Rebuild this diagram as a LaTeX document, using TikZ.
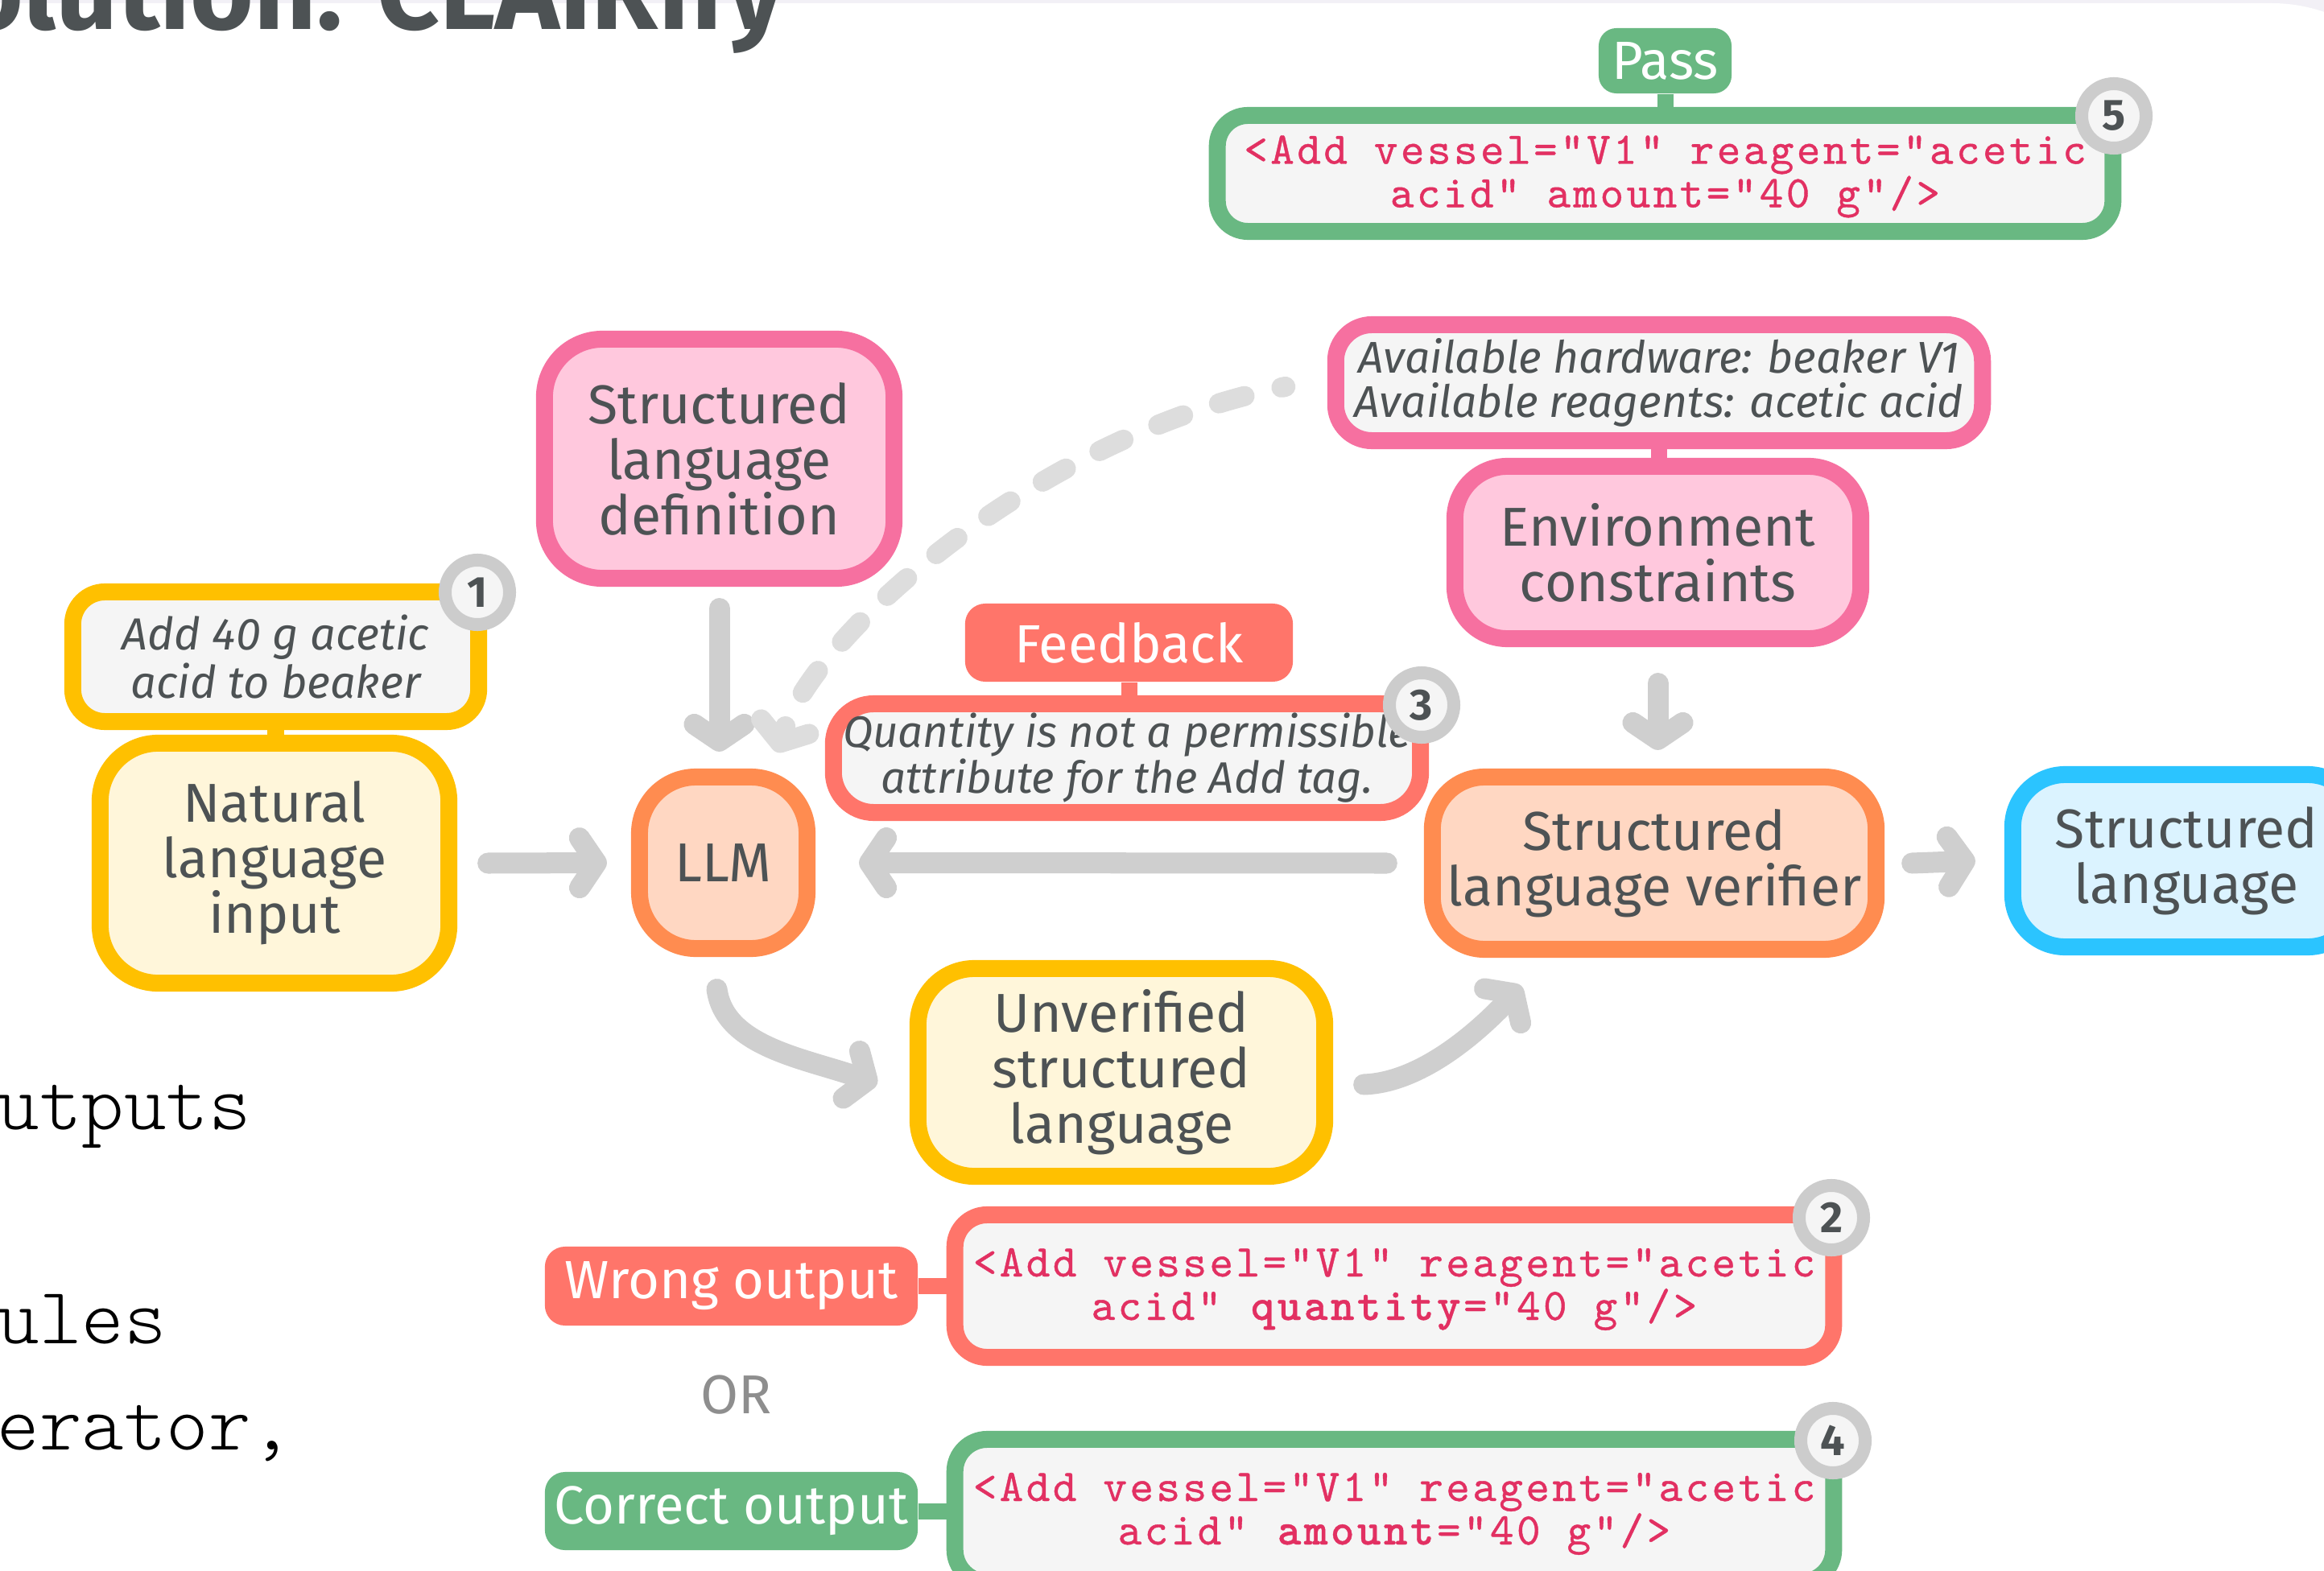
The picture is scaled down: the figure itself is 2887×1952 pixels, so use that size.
\documentclass[tikz,border=0pt]{standalone}
\usepackage{fontspec}
\setmainfont{Fira Sans}
\newfontfamily\codefont{lmmono10-regular.otf}[BoldFont=lmmonolt10-bold.otf, LetterSpace=6.2, FakeBold=0.7]
\newfontfamily\courfont{lmmonolt10-regular.otf}
\usetikzlibrary{arrows.meta}

\definecolor{txt}{RGB}{77,82,84}
\definecolor{ybord}{RGB}{255,192,0}
\definecolor{yfill}{RGB}{255,246,218}
\definecolor{pbord}{RGB}{246,112,160}
\definecolor{pfill}{RGB}{255,200,221}
\definecolor{obord}{RGB}{255,140,80}
\definecolor{ofill}{RGB}{255,215,194}
\definecolor{coral}{RGB}{255,117,106}
\definecolor{grn}{RGB}{105,184,130}
\definecolor{bbord}{RGB}{43,196,255}
\definecolor{bfill}{RGB}{219,243,255}
\definecolor{arrgray}{RGB}{207,207,207}
\definecolor{dashgray}{RGB}{221,221,221}
\definecolor{lfill}{RGB}{245,245,245}
\definecolor{ringgray}{RGB}{204,204,204}
\definecolor{codecol}{RGB}{226,48,98}
\definecolor{orgray}{RGB}{142,142,142}
\definecolor{framecol}{RGB}{242,240,246}

\newcommand\mainsz{\fontsize{19.35pt}{19.63pt}\selectfont}
\newcommand\italsz{\fontsize{15.9pt}{15.65pt}\selectfont\itshape}
\newcommand\italszb{\fontsize{15.55pt}{16.2pt}\selectfont\itshape}
\newcommand\italszc{\fontsize{15.7pt}{15.65pt}\selectfont\itshape}
\newcommand\lblsz{\fontsize{19.0pt}{19.6pt}\selectfont}
\newcommand\codesz{\fontsize{16.0pt}{15.36pt}\selectfont\codefont}
\newcommand\badgesz{\fontsize{15.4pt}{16pt}\selectfont\bfseries}
\newcommand\leftsz{\fontsize{28.45pt}{28.5pt}\selectfont\courfont}
\newcommand\titlesz{\fontsize{38.4pt}{40pt}\selectfont\bfseries}
\newcommand\topstrut{\rule{0pt}{0.45cm}}
\newcommand\botstrut{\rule[-0.15cm]{0pt}{0.15cm}}

\tikzset{
  bx/.style={draw, line width=0.21cm, inner sep=0pt, align=center, text=txt},
  ybox/.style={bx, draw=ybord, fill=yfill},
  pbox/.style={bx, draw=pbord, fill=pfill},
  obox/.style={bx, draw=obord, fill=ofill},
  bbox/.style={bx, draw=bbord, fill=bfill},
  codebox/.style={bx, fill=lfill, text=codecol, font=\codesz, minimum width=10.91cm, minimum height=1.77cm, rounded corners=0.4cm},
  lbl/.style={inner sep=0pt, text=white, font=\lblsz, rounded corners=0.25cm},
  badge/.style={circle, draw=ringgray, line width=0.16cm, fill=lfill, minimum size=0.80cm, inner sep=0pt, font=\badgesz, text=txt},
  stub/.style={line width=0.20cm},
  arr/.style={draw=arrgray, line width=0.26cm, line cap=round, line join=round, -{Straight Barb[round, length=0.21cm, width=0.62cm]}},
  dasharr/.style={draw=dashgray, line width=0.25cm, line cap=round, line join=round, dash pattern=on 0.33cm off 0.47cm, dash phase=0.28cm, -{Straight Barb[round, length=0.21cm, width=0.62cm]}},
}

\begin{document}
\begin{tikzpicture}[x=0.01cm, y=-0.01cm]
\useasboundingbox (0,0) rectangle (2887,1952);
\fill[framecol] (0,0) rectangle (2887,1952);
\fill[white, rounded corners=2cm] (-300,4) rectangle (3022,2300);

% title and left texts
\node[anchor=base east, inner sep=0pt, font=\titlesz, text=txt] (title) at (975,37) {olution: CLAIRify};
\node[anchor=base west, inner sep=0pt, font=\leftsz] (t1) at (-4,1403) {utputs};
\node[anchor=base west, inner sep=0pt, font=\leftsz] (t2) at (-4,1669) {ules};
\node[anchor=base west, inner sep=0pt, font=\leftsz] (t3) at (-4,1801) {erator,};

% boxes
\node[ybox, fill=lfill, minimum width=5.04cm, minimum height=1.61cm, rounded corners=0.4cm, font=\italsz] (instr) at (342.5,816) {Add 40 g acetic\\acid to beaker};
\node[ybox, minimum width=4.33cm, minimum height=2.98cm, rounded corners=0.72cm, font=\mainsz] (nl) at (341,1072.5) {Natural\\language\\input};
\node[pbox, minimum width=4.34cm, minimum height=2.97cm, rounded corners=0.72cm, font=\mainsz] (sld) at (893.5,570) {Structured\\language\\definition};
\node[obox, minimum width=2.08cm, minimum height=2.13cm, rounded corners=0.7cm, font=\mainsz] (llm) at (898.5,1072) {LLM};
\node[lbl, fill=coral, minimum width=4.07cm, minimum height=0.97cm] (fb) at (1402.5,798.5) {Feedback};
\node[bx, draw=coral, fill=lfill, minimum width=7.29cm, minimum height=1.35cm, rounded corners=0.5cm, font=\italszb] (fbtext) at (1400,942) {Quantity is not a permissible\\attribute for the Add tag.};
\node[bx, draw=pbord, fill=lfill, minimum width=8.03cm, minimum height=1.44cm, rounded corners=0.45cm, font=\italszc] (envtext) at (2061,475.5) {Available hardware: beaker V1\\Available reagents: acetic acid};
\node[pbox, minimum width=5.04cm, minimum height=2.14cm, rounded corners=0.65cm, font=\mainsz] (env) at (2059.5,686.5) {Environment\\constraints};
\node[obox, minimum width=5.51cm, minimum height=2.14cm, rounded corners=0.65cm, font=\mainsz] (ver) at (2055,1072.5) {Structured\\language verifier};
\node[bbox, minimum width=4.31cm, minimum height=2.14cm, rounded corners=0.65cm, font=\mainsz] (sl) at (2716,1069.5) {Structured\\language};
\node[ybox, minimum width=5.05cm, minimum height=2.58cm, rounded corners=0.7cm, font=\mainsz] (unv) at (1393,1332.5) {Unverified\\structured\\language};

\node[lbl, fill=grn, minimum width=1.65cm, minimum height=0.81cm, rounded corners=0.22cm] (pass) at (2068.5,75.5) {Pass};
\node[codebox, draw=grn, minimum width=11.12cm, minimum height=1.44cm, rounded corners=0.38cm] (passcode) at (2068.5,215.5) {\topstrut<Add vessel="V1" reagent="acetic\\acid" amount="40 g"/>\botstrut};

\node[lbl, fill=coral, minimum width=4.63cm, minimum height=0.98cm] (wrong) at (908.5,1598) {Wrong output};
\node[codebox, draw=coral] (wrongcode) at (1732,1598) {\topstrut<Add vessel="V1" reagent="acetic\\acid" \textbf{quantity}="40 g"/>\botstrut};
\node[anchor=base, inner sep=0pt, font=\mainsz, text=orgray] (or) at (915,1756) {OR};
\node[lbl, fill=grn, minimum width=4.63cm, minimum height=0.97cm] (correct) at (908.5,1877.5) {Correct output};
\node[codebox, draw=grn] (correctcode) at (1732,1877) {\topstrut<Add vessel="V1" reagent="acetic\\acid" \textbf{amount}="40 g"/>\botstrut};

% stubs
\draw[stub, draw=ybord] (instr.south) -- (instr.south |- nl.north);
\draw[stub, draw=coral] (fb.south) -- (fb.south |- fbtext.north);
\draw[stub, draw=pbord] (envtext.south) -- (envtext.south |- env.north);
\draw[stub, draw=grn] (pass.south) -- (pass.south |- passcode.north);
\draw[stub, draw=coral] (wrong.east) -- (wrong.east -| wrongcode.west);
\draw[stub, draw=grn] (correct.east) -- (correct.east -| correctcode.west);

% arrows
\draw[arr] ([yshift=-0.27cm]sld.south) -- ([yshift=0.21cm]sld.south |- llm.north);
\draw[arr] ([xshift=0.38cm]nl.east) -- ([xshift=-0.30cm]llm.west);
\draw[arr] ([xshift=-0.46cm]ver.west) -- ([xshift=0.54cm]llm.east);
\draw[arr] ([yshift=-0.45cm]env.south) -- ([yshift=0.23cm]env.south |- ver.north);
\draw[arr] ([xshift=0.34cm]ver.east) -- ([xshift=-0.36cm]sl.west);
\draw[arr] ([shift={(-8,40)}]llm.south) .. controls +(9.5,71.5) and +(-90.5,-31.5) .. ([shift={(-40,14)}]unv.west);
\draw[arr] ([shift={(38,15)}]unv.east) .. controls +(76.5,-2.5) and +(-45,47.5) .. ([shift={(-165,35)}]ver.south);
\draw[dasharr] ([shift={(-52,5)}]envtext.west) .. controls +(-307,60) and +(44,-145) .. ([shift={(67,-20)}]llm.north);

% badges
\node[badge] (b1) at (593,736) {1};
\node[badge] (b2) at (2275,1513) {2};
\node[badge] (b3) at (1766,876) {3};
\node[badge] (b4) at (2277,1790) {4};
\node[badge] (b5) at (2626,144) {5};
\end{tikzpicture}
\end{document}
